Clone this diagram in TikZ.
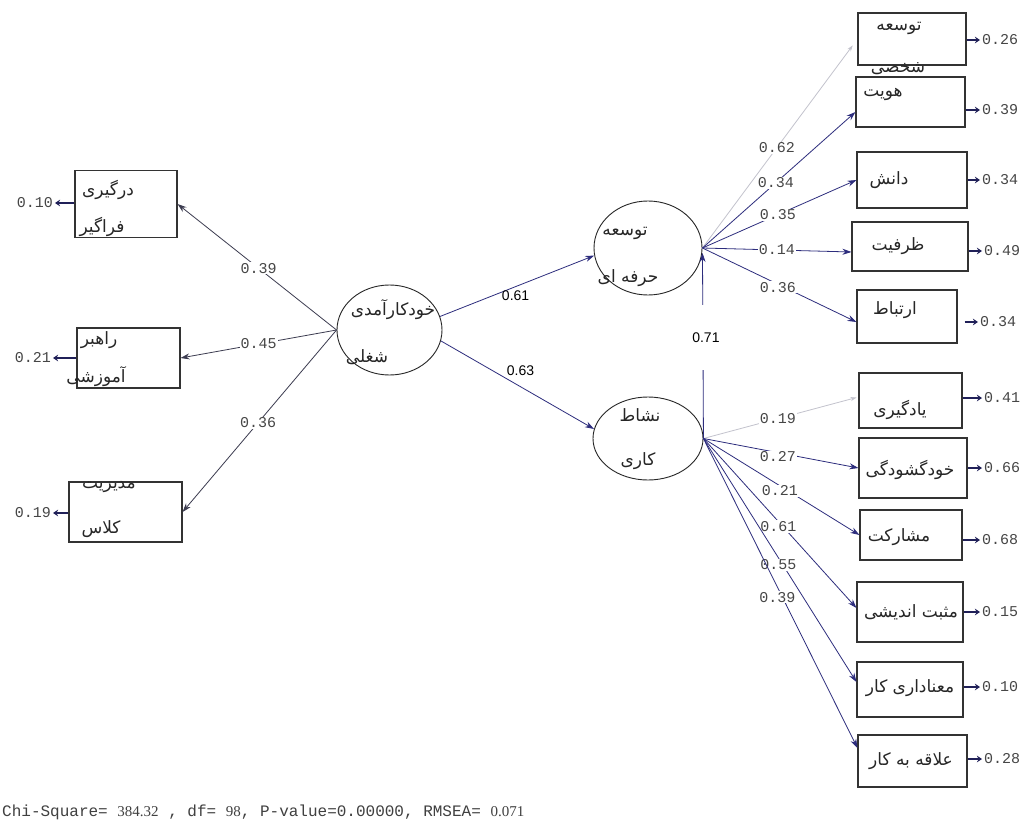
\documentclass[tikz,border=0pt]{standalone}
\usepackage{fontspec}
\TeXXeTstate=1
\newfontfamily\arabicfont[Script=Arabic]{DejaVu Sans}
\newfontfamily\monofnt{Liberation Mono}
\newfontfamily\sansfnt{Liberation Sans}
\newfontfamily\seriffnt{Liberation Serif}
\usetikzlibrary{arrows.meta,shapes.geometric}
\definecolor{navyline}{RGB}{45,45,125}
\definecolor{darkline}{RGB}{60,60,80}
\definecolor{greyline}{RGB}{195,195,205}
\definecolor{numtext}{RGB}{70,70,70}
\newcommand\fa[1]{{\arabicfont\beginR #1\endR}}
\begin{document}
\begin{tikzpicture}[x=1pt,y=-1pt,
  obsbox/.style={draw=black!80, line width=1.1pt, inner sep=0pt},
  latent/.style={ellipse, draw=black!85, line width=0.9pt, inner sep=0pt},
  fatext/.style={font=\fontsize{17}{19}\selectfont, inner sep=0pt, text=black!85},
  conn/.style={draw=navyline, line width=0.8pt, -{Stealth[length=9pt,width=6pt]}},
  leftconn/.style={conn, draw=darkline},
  greyconn/.style={draw=greyline, line width=0.8pt, -{Stealth[length=6pt,width=4pt]}},
  errarrow/.style={draw=navyline!70!black, line width=2pt, -{Stealth[length=5pt,width=6.5pt]}, shorten >=2pt},
  coef/.style={font=\monofnt\fontsize{15}{15}\selectfont, text=numtext, fill=white, inner sep=1pt},
  errnum/.style={font=\monofnt\fontsize{15}{15}\selectfont, text=numtext, inner sep=0pt},
  bigcoef/.style={font=\sansfnt\fontsize{14}{14}\selectfont, inner sep=1pt}
]
\useasboundingbox[fill=white] (0,0) rectangle (1025,832);

% left indicators
\node[obsbox, minimum width=102, minimum height=67] (b1) at (126,204) {};
\node[fatext] (b1a) at (108,190) {\fa{درگیری}};
\node[fatext] (b1b) at (102,227) {\fa{فراگیر}};
\node[obsbox, minimum width=103, minimum height=60] (b2) at (128.5,358) {};
\node[fatext] (b2a) at (99,340) {\fa{راهبر}};
\node[fatext] (b2b) at (96,377) {\fa{آموزشی}};
\node[obsbox, minimum width=113, minimum height=60] (b3) at (125.5,512) {};
\node[fatext] (b3a) at (109,487) {\fa{مدیریت}};
\node[fatext] (b3b) at (101,529) {\fa{کلاس}};

% latent variables
\node[latent, minimum width=105, minimum height=90] (c) at (389.5,330) {};
\node[fatext] (ca) at (393,310) {\fa{خودکارآمدی}};
\node[fatext] (cb) at (367,357) {\fa{شغلی}};
\node[latent, minimum width=108, minimum height=94] (e1) at (648,248) {};
\node[fatext] (e1a) at (625,233) {\fa{توسعه}};
\node[fatext] (e1b) at (628,278) {\fa{حرفه ای}};
\node[latent, minimum width=110, minimum height=83] (e2) at (648,438.5) {};
\node[fatext] (e2a) at (640,415) {\fa{نشاط}};
\node[fatext] (e2b) at (638,461) {\fa{کاری}};

% right indicators (upper)
\node[obsbox, minimum width=108, minimum height=52] (t1) at (912,39) {};
\node[fatext] (t1a) at (899,28) {\fa{توسعه}};
\node[fatext] (t1b) at (898,69) {\fa{شخصی}};
\node[obsbox, minimum width=109, minimum height=50] (t2) at (910.5,102) {};
\node[fatext] (t2a) at (883,94) {\fa{هویت}};
\node[obsbox, minimum width=110, minimum height=56] (t3) at (912,180) {};
\node[fatext] (t3a) at (889,180) {\fa{دانش}};
\node[obsbox, minimum width=116, minimum height=49] (t4) at (910,246.5) {};
\node[fatext] (t4a) at (898,246) {\fa{ظرفیت}};
\node[obsbox, minimum width=100, minimum height=53] (t5) at (907,316.5) {};
\node[fatext] (t5a) at (895,310) {\fa{ارتباط}};

% right indicators (lower)
\node[obsbox, minimum width=103, minimum height=55] (u1) at (910.5,400.5) {};
\node[fatext] (u1a) at (900,410) {\fa{یادگیری}};
\node[obsbox, minimum width=108, minimum height=60] (u2) at (913,468) {};
\node[fatext] (u2a) at (910,470) {\fa{خودگشودگی}};
\node[obsbox, minimum width=102, minimum height=50] (u3) at (911,535) {};
\node[fatext] (u3a) at (899,537) {\fa{مشارکت}};
\node[obsbox, minimum width=106, minimum height=60] (u4) at (910,612) {};
\node[fatext] (u4a) at (911,612) {\fa{مثبت اندیشی}};
\node[obsbox, minimum width=106, minimum height=55] (u5) at (910,689.5) {};
\node[fatext] (u5a) at (910,688) {\fa{معناداری کار}};
\node[obsbox, minimum width=109, minimum height=52] (u6) at (912.5,761) {};
\node[fatext] (u6a) at (911,761) {\fa{علاقه به کار}};

% paths from the exogenous latent
\draw[leftconn] (c.west) -- node[coef, pos=.49]{0.39} (b1.east);
\draw[leftconn] (c.west) -- node[coef, pos=.5]{0.45} (b2.east);
\draw[leftconn] (c.west) -- node[coef, pos=.51]{0.36} (b3.east);
\draw[conn] (c.15) -- node[bigcoef, pos=.49, yshift=-9pt]{0.61} (e1.188);
\draw[conn] (c.-12) -- node[bigcoef, pos=.52, yshift=16pt]{0.63} (e2.170);
\draw[conn, shorten >=5pt] (e2.east) -- node[bigcoef, pos=.53, xshift=3pt, fill=white, inner ysep=28pt]{0.71} (e1.east);

% fan from e1
\draw[greyconn, shorten >=8pt] (e1.east) -- node[coef, pos=.48]{0.62} (t1.west);
\draw[conn] (e1.east) -- node[coef, pos=.48]{0.34} ([yshift=-10pt]t2.west);
\draw[conn] (e1.east) -- node[coef, pos=.49]{0.35} (t3.west);
\draw[conn] (e1.east) -- node[coef, pos=.5]{0.14} ([yshift=-5.5pt]t4.west);
\draw[conn] (e1.east) -- node[coef, pos=.49, yshift=-3pt]{0.36} ([yshift=-5.5pt]t5.west);

% fan from e2
\draw[greyconn, shorten >=2pt] (e2.east) -- node[coef, pos=.48]{0.19} ([yshift=3.5pt]u1.west);
\draw[conn] (e2.east) -- node[coef, pos=.48, yshift=-4pt]{0.27} (u2.west);
\draw[conn] (e2.east) -- node[coef, pos=.49, yshift=-5pt]{0.21} (u3.west);
\draw[conn] (e2.east) -- node[coef, pos=.49, yshift=-5pt]{0.61} ([yshift=4pt]u4.west);
\draw[conn] (e2.east) -- node[coef, pos=.49, yshift=-7pt]{0.55} ([yshift=7.5pt]u5.west);
\draw[conn] (e2.east) -- node[coef, pos=.48, yshift=-10pt]{0.39} ([yshift=13pt]u6.west);

% error variances (left)
\node[errnum, anchor=east] (l1) at (53,203) {0.10};
\node[errnum, anchor=east] (l2) at (51,358) {0.21};
\node[errnum, anchor=east] (l3) at (51,513) {0.19};
\draw[errarrow] (b1.west |- l1.east) -- (l1.east);
\draw[errarrow] (b2.west |- l2.east) -- (l2.east);
\draw[errarrow] (b3.west |- l3.east) -- (l3.east);

% error variances (right)
\node[errnum, anchor=west] (n1) at (982,40) {0.26};
\node[errnum, anchor=west] (n2) at (982,110) {0.39};
\node[errnum, anchor=west] (n3) at (982,180) {0.34};
\node[errnum, anchor=west] (n4) at (984,251) {0.49};
\node[errnum, anchor=west] (n5) at (980,322) {0.34};
\node[errnum, anchor=west] (n6) at (984,398) {0.41};
\node[errnum, anchor=west] (n7) at (984,468) {0.66};
\node[errnum, anchor=west] (n8) at (982,540) {0.68};
\node[errnum, anchor=west] (n9) at (982,612) {0.15};
\node[errnum, anchor=west] (n10) at (982,687) {0.10};
\node[errnum, anchor=west] (n11) at (984,759) {0.28};
\draw[errarrow] (t1.east |- n1.west) -- (n1.west);
\draw[errarrow] (t2.east |- n2.west) -- (n2.west);
\draw[errarrow] (t3.east |- n3.west) -- (n3.west);
\draw[errarrow] (t4.east |- n4.west) -- (n4.west);
\draw[errarrow] ([xshift=7pt]t5.east |- n5.west) -- (n5.west);
\draw[errarrow] (u1.east |- n6.west) -- (n6.west);
\draw[errarrow] (u2.east |- n7.west) -- (n7.west);
\draw[errarrow] (u3.east |- n8.west) -- (n8.west);
\draw[errarrow] (u4.east |- n9.west) -- (n9.west);
\draw[errarrow] (u5.east |- n10.west) -- (n10.west);
\draw[errarrow] (u6.east |- n11.west) -- (n11.west);

% fit statistics
\node[anchor=west, inner sep=0pt, font=\monofnt\fontsize{16}{16}\selectfont, text=black!75] (fit) at (2,812)
  {Chi-Square= {\seriffnt\fontsize{15}{15}\selectfont 384.32} , df= {\seriffnt\fontsize{15}{15}\selectfont 98}, P-value=0.00000, RMSEA= {\seriffnt\fontsize{15}{15}\selectfont 0.071}};
\end{tikzpicture}
\end{document}
